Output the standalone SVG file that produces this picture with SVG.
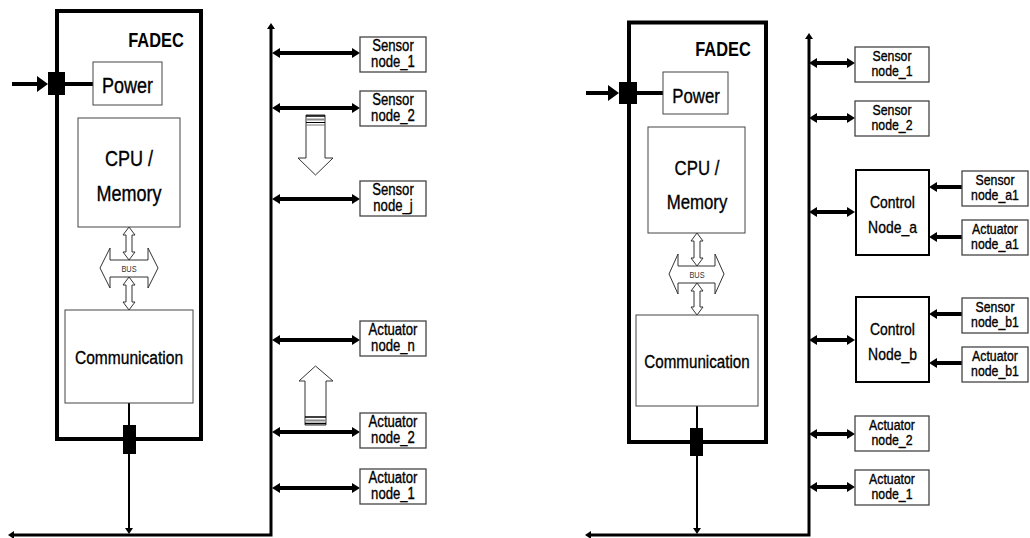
<svg xmlns="http://www.w3.org/2000/svg" width="1030" height="538" viewBox="0 0 1030 538">
<style>
text{font-family:"Liberation Sans","Arial",sans-serif;fill:#000;text-anchor:middle;stroke:#000;stroke-width:0.35}
.fadec{fill:none;stroke:#000;stroke-width:4}
.inner{fill:#fff;stroke:#444;stroke-width:1}
.node{fill:#fff;stroke:#444;stroke-width:1.3}
.ctrl{fill:#fff;stroke:#000;stroke-width:2}
.thick{stroke:#000;stroke-width:4;fill:none}
.thin{stroke:#000;stroke-width:2;fill:none}
.bus{stroke:#000;stroke-width:3;fill:none}
.hollow{fill:#fff;stroke:#333;stroke-width:1}
.blk{fill:#000}
.t16{font-size:16px}
.t15{font-size:15px}
.t17{font-size:17px}
.b{font-weight:bold;stroke-width:0}
.sm{stroke-width:0;fill:#333}
</style>
<defs>
<marker id="ah" markerUnits="userSpaceOnUse" markerWidth="8" markerHeight="10" viewBox="0 0 8 10" refX="0" refY="5" orient="auto-start-reverse"><path d="M0,0 L8,5 L0,10 z" fill="#000"/></marker>
<marker id="as" markerUnits="userSpaceOnUse" markerWidth="6" markerHeight="8" viewBox="0 0 6 8" refX="0" refY="4" orient="auto-start-reverse"><path d="M0,0 L6,4 L0,8 z" fill="#000"/></marker>
<marker id="ap" markerUnits="userSpaceOnUse" markerWidth="11" markerHeight="16" viewBox="0 0 11 16" refX="0" refY="8" orient="auto"><path d="M0,0 L11,8 L0,16 z" fill="#000"/></marker>
</defs>

<g id="connectors">
<line class="thick" x1="12" y1="84" x2="37" y2="84" stroke-width="6" marker-end="url(#ap)"/>
<line class="thick" x1="65" y1="84" x2="93" y2="84"/>
<line class="thin" x1="129" y1="403" x2="129" y2="528" marker-end="url(#as)"/>
<polyline class="bus" points="14,535 271,535 271,29" marker-start="url(#as)" marker-end="url(#as)"/>
<line class="thick" x1="280" y1="53" x2="352" y2="53" marker-start="url(#ah)" marker-end="url(#ah)"/>
<line class="thick" x1="280" y1="108" x2="352" y2="108" marker-start="url(#ah)" marker-end="url(#ah)"/>
<line class="thick" x1="280" y1="199" x2="352" y2="199" marker-start="url(#ah)" marker-end="url(#ah)"/>
<line class="thick" x1="280" y1="340" x2="352" y2="340" marker-start="url(#ah)" marker-end="url(#ah)"/>
<line class="thick" x1="280" y1="432" x2="316" y2="432" stroke-width="2.5" marker-start="url(#ah)"/>
<line class="thick" x1="316" y1="432" x2="352" y2="432" marker-end="url(#ah)"/>
<line class="thick" x1="280" y1="488" x2="352" y2="488" marker-start="url(#ah)" marker-end="url(#ah)"/>
<line class="thick" x1="586" y1="93" x2="608" y2="93" stroke-width="6" marker-end="url(#ap)"/>
<line class="thick" x1="637" y1="93" x2="663" y2="93"/>
<line class="thin" x1="697" y1="406" x2="697" y2="528" marker-end="url(#as)"/>
<polyline class="bus" points="591,535 809,535 809,39" marker-start="url(#as)" marker-end="url(#as)"/>
<line class="thick" x1="817" y1="63" x2="847" y2="63" marker-start="url(#ah)" marker-end="url(#ah)"/>
<line class="thick" x1="817" y1="118" x2="847" y2="118" marker-start="url(#ah)" marker-end="url(#ah)"/>
<line class="thick" x1="817" y1="212" x2="847" y2="212" marker-start="url(#ah)" marker-end="url(#ah)"/>
<line class="thick" x1="817" y1="340" x2="847" y2="340" marker-start="url(#ah)" marker-end="url(#ah)"/>
<line class="thick" x1="817" y1="434" x2="847" y2="434" marker-start="url(#ah)" marker-end="url(#ah)"/>
<line class="thick" x1="817" y1="487" x2="847" y2="487" marker-start="url(#ah)" marker-end="url(#ah)"/>
<line class="thick" x1="962" y1="187" x2="937" y2="187" marker-end="url(#ah)"/>
<line class="thick" x1="962" y1="237" x2="937" y2="237" marker-end="url(#ah)"/>
<line class="thick" x1="962" y1="314" x2="937" y2="314" marker-end="url(#ah)"/>
<line class="thick" x1="962" y1="363" x2="937" y2="363" marker-end="url(#ah)"/>
</g>

<g id="fadec-left">
<rect class="fadec" x="57" y="11" width="144" height="428"/>
<text class="b" transform="translate(156 47) scale(.82 1)" font-size="20">FADEC</text>
<rect class="blk" x="48" y="72" width="17" height="23"/>
<rect class="blk" x="123" y="425" width="13" height="29"/>
</g>
<g id="power-left"><rect class="inner" x="93" y="62" width="69" height="43"/><text transform="translate(127.5 93) scale(.82 1)" font-size="22">Power</text></g>
<g id="cpu-left"><rect class="inner" x="78" y="118" width="102" height="109"/><text transform="translate(129 166) scale(.82 1)" font-size="22">CPU /</text><text transform="translate(129 201) scale(.82 1)" font-size="22">Memory</text></g>
<g id="bus-left">
<polygon class="hollow" points="129,227 135,235 132,235 132,252 135,252 129,260 123,252 126,252 126,235 123,235"/>
<polygon class="hollow" points="129,277 135,285 132,285 132,302 135,302 129,310 123,302 126,302 126,285 123,285"/>
<polygon class="hollow" points="100,268 110,248 110,260 148,260 148,248 158,268 148,288 148,277 110,277 110,288"/>
<text class="sm" transform="translate(129 272) scale(.82 1)" font-size="9">BUS</text>
</g>
<g id="comm-left"><rect class="inner" x="65" y="310" width="128" height="93"/><text transform="translate(129 364) scale(.82 1)" font-size="19">Communication</text></g>

<g id="sensor1-left"><rect class="node" x="360" y="37" width="66" height="35"/><text class="t16" transform="translate(393 51) scale(.82 1)">Sensor</text><text class="t16" transform="translate(393 67) scale(.82 1)">node_1</text></g>
<g id="sensor2-left"><rect class="node" x="360" y="91" width="66" height="35"/><text class="t16" transform="translate(393 105) scale(.82 1)">Sensor</text><text class="t16" transform="translate(393 121) scale(.82 1)">node_2</text></g>
<g id="sensorj-left"><rect class="node" x="360" y="181" width="66" height="35"/><text class="t16" transform="translate(393 195) scale(.82 1)">Sensor</text><text class="t16" transform="translate(393 211) scale(.82 1)">node_j</text></g>
<g id="actn-left"><rect class="node" x="360" y="321" width="66" height="35"/><text class="t16" transform="translate(393 335) scale(.82 1)">Actuator</text><text class="t16" transform="translate(393 351) scale(.82 1)">node_n</text></g>
<g id="act2-left"><rect class="node" x="360" y="413" width="66" height="35"/><text class="t16" transform="translate(393 427) scale(.82 1)">Actuator</text><text class="t16" transform="translate(393 443) scale(.82 1)">node_2</text></g>
<g id="act1-left"><rect class="node" x="360" y="469" width="66" height="35"/><text class="t16" transform="translate(393 483) scale(.82 1)">Actuator</text><text class="t16" transform="translate(393 499) scale(.82 1)">node_1</text></g>

<g id="down-arrow">
<polygon class="hollow" points="306,115 325,115 325,158 333,158 315.5,175 298,158 306,158"/>
<line x1="306" y1="116" x2="325" y2="116" stroke="#000" stroke-width="1.5"/>
<line x1="306" y1="119.5" x2="325" y2="119.5" stroke="#888" stroke-width="2"/>
<line x1="306" y1="122.5" x2="325" y2="122.5" stroke="#000" stroke-width="1"/>
<line x1="306" y1="125" x2="325" y2="125" stroke="#777" stroke-width="1"/>
</g>
<g id="up-arrow">
<polygon class="hollow" points="315.5,366 333,381 326,381 326,425 305,425 305,381 299,381"/>
<line x1="305" y1="417" x2="326" y2="417" stroke="#000" stroke-width="1.5"/>
<line x1="305" y1="420.5" x2="326" y2="420.5" stroke="#888" stroke-width="2"/>
<line x1="305" y1="423.5" x2="326" y2="423.5" stroke="#000" stroke-width="1.5"/>
</g>

<g id="fadec-right">
<rect class="fadec" x="629" y="22.5" width="137" height="419.5"/>
<text class="b" transform="translate(723 56) scale(.82 1)" font-size="20">FADEC</text>
<rect class="blk" x="619" y="82" width="18" height="22"/>
<rect class="blk" x="690" y="428" width="13" height="28"/>
</g>
<g id="power-right"><rect class="inner" x="663" y="72" width="65" height="42"/><text transform="translate(696 103) scale(.82 1)" font-size="20.5">Power</text></g>
<g id="cpu-right"><rect class="inner" x="648" y="127" width="97" height="106"/><text transform="translate(697 175) scale(.82 1)" font-size="20.5">CPU /</text><text transform="translate(697 209) scale(.82 1)" font-size="20.5">Memory</text></g>
<g id="bus-right">
<polygon class="hollow" points="697,233 703,241 700,241 700,258 703,258 697,266 691,258 694,258 694,241 691,241"/>
<polygon class="hollow" points="697,283 703,291 700,291 700,307 703,307 697,315 691,307 694,307 694,291 691,291"/>
<polygon class="hollow" points="669,274 678,254 678,266 715,266 715,254 724,274 715,294 715,283 678,283 678,294"/>
<text class="sm" transform="translate(697 278) scale(.82 1)" font-size="9">BUS</text>
</g>
<g id="comm-right"><rect class="inner" x="636" y="315" width="122" height="91"/><text transform="translate(697 368) scale(.82 1)" font-size="18.5">Communication</text></g>

<g id="sensor1-right"><rect class="node" x="855" y="47" width="74" height="35"/><text class="t15" transform="translate(892 61) scale(.82 1)">Sensor</text><text class="t15" transform="translate(892 76) scale(.82 1)">node_1</text></g>
<g id="sensor2-right"><rect class="node" x="855" y="101" width="74" height="35"/><text class="t15" transform="translate(892 115) scale(.82 1)">Sensor</text><text class="t15" transform="translate(892 130) scale(.82 1)">node_2</text></g>
<g id="control-a"><rect class="ctrl" x="856" y="170" width="73" height="85"/><text class="t17" transform="translate(892.5 208) scale(.82 1)">Control</text><text class="t17" transform="translate(892.5 233) scale(.82 1)">Node_a</text></g>
<g id="control-b"><rect class="ctrl" x="856" y="297" width="73" height="85"/><text class="t17" transform="translate(892.5 335) scale(.82 1)">Control</text><text class="t17" transform="translate(892.5 360) scale(.82 1)">Node_b</text></g>
<g id="act2-right"><rect class="node" x="855" y="416" width="74" height="35"/><text class="t15" transform="translate(892 430) scale(.82 1)">Actuator</text><text class="t15" transform="translate(892 445) scale(.82 1)">node_2</text></g>
<g id="act1-right"><rect class="node" x="855" y="470" width="74" height="35"/><text class="t15" transform="translate(892 484) scale(.82 1)">Actuator</text><text class="t15" transform="translate(892 499) scale(.82 1)">node_1</text></g>
<g id="sensor-a1"><rect class="node" x="962" y="171" width="66" height="35"/><text class="t15" transform="translate(995 185) scale(.82 1)">Sensor</text><text class="t15" transform="translate(995 200) scale(.82 1)">node_a1</text></g>
<g id="actuator-a1"><rect class="node" x="962" y="220" width="66" height="35"/><text class="t15" transform="translate(995 234) scale(.82 1)">Actuator</text><text class="t15" transform="translate(995 249) scale(.82 1)">node_a1</text></g>
<g id="sensor-b1"><rect class="node" x="962" y="298" width="66" height="35"/><text class="t15" transform="translate(995 312) scale(.82 1)">Sensor</text><text class="t15" transform="translate(995 327) scale(.82 1)">node_b1</text></g>
<g id="actuator-b1"><rect class="node" x="962" y="347" width="66" height="35"/><text class="t15" transform="translate(995 361) scale(.82 1)">Actuator</text><text class="t15" transform="translate(995 376) scale(.82 1)">node_b1</text></g>
</svg>
